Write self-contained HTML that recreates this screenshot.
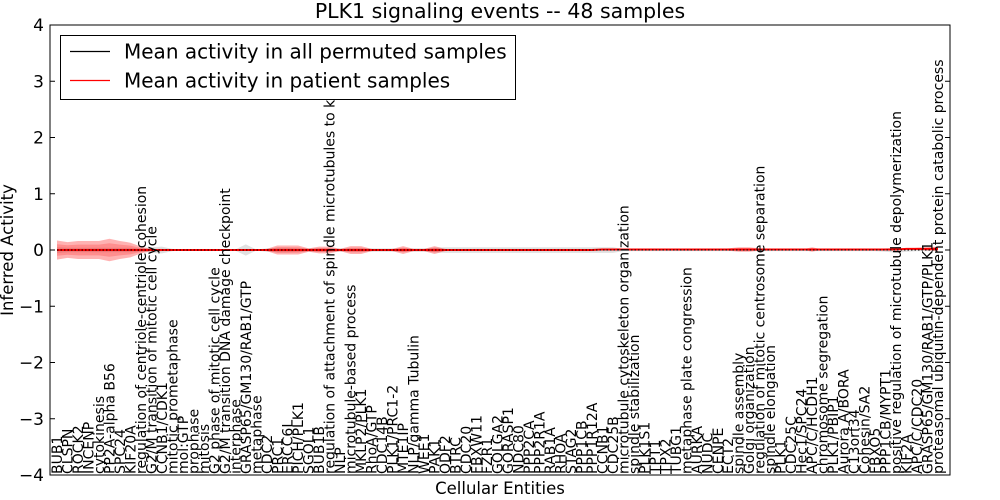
<!DOCTYPE html>
<html><head><meta charset="utf-8"><style>
body{margin:0;background:#fff;}
svg{display:block;font-family:"DejaVu Sans","Liberation Sans",sans-serif;}
</style></head><body>
<svg id="chart" width="1000" height="500">
<defs><clipPath id="lblclip"><rect x="0" y="36" width="1000" height="464"/></clipPath></defs>
<rect x="0" y="0" width="1000" height="500" fill="#fff"/>
<text x="500" y="18" font-size="20.5" text-anchor="middle">PLK1 signaling events -- 48 samples</text>
<text x="500" y="494" font-size="16.5" text-anchor="middle">Cellular Entities</text>
<text transform="translate(13,250) rotate(-90)" font-size="16.5" text-anchor="middle">Inferred Activity</text>
<g id="bands"></g>
<g id="lines"></g>
<g id="xlabels" clip-path="url(#lblclip)"></g>
<g id="yaxis"></g>
<rect x="50" y="25" width="900" height="450" fill="none" stroke="#000" stroke-width="1"/>
<g>
<rect x="60.5" y="35.5" width="455" height="64" fill="#fff" stroke="#000"/>
<line x1="70" y1="51.5" x2="110" y2="51.5" stroke="#000" stroke-width="1.2"/>
<text x="124" y="58.5" font-size="20">Mean activity in all permuted samples</text>
<line x1="70" y1="80.5" x2="110" y2="80.5" stroke="#f00" stroke-width="1.2"/>
<text x="124" y="87.5" font-size="20">Mean activity in patient samples</text>
</g>
</svg>
<script>
const categories=["BUB1","CLSPN","ROCK2","INCENP","cytokinesis","PP2A-alpha B56","SPC24","KIF20A","regulation of centriole-centriole cohesion","G2/M transition of mitotic cell cycle","CCNB1/CDK1","mitotic prometaphase","mol:GTP","prophase","mitosis","G2 phase of mitotic cell cycle","G2/M transition DNA damage checkpoint","interphase","GRASP65/GM130/RAB1/GTP","metaphase","CDC2","PRC1","ERCC6L","PICH/PLK1","SGOL1","BUB1B","regulation of attachment of spindle microtubules to kinetochore","NLP","microtubule-based process","MKLP2/PLK1","RhoA/GTP","CDC14B","PLK1/PRC1-2","MTE1IP","NLP/gamma Tubulin","WEE1","PAK1","ODF2","BTRC","CDC20","FBXW11","FZR1","GOLGA2","GORASP1","NDC80","PPP2CA","PPP2R1A","RAB1A","RHOA","STAG2","PPP1CB","PPP1R12A","CCNB1","CDC25B","microtubule cytoskeleton organization","spindle stabilization","PLK1S1","TPT1","TPX2","TUBG1","metaphase plate congression","AURKA","NUDC","CENPE","ECT2","spindle assembly","Golgi organization","regulation of mitotic centrosome separation","spindle elongation","PLK1","CDC25C","Hec1/SPC24","APC/C/HCDH1","chromosome segregation","PLK1/PBIP1","Aurora A/BORA","C13orf34","Cohesin/SA2","FBXO5","PPP1CB/MYPT1","positive regulation of microtubule depolymerization","KIF2A","APC/C/CDC20","GRASP65/GM130/RAB1/GTP/PLK1","proteasomal ubiquitin-dependent protein catabolic process"];
const patientMean=[0,0,0,0,0,0,0,0,0,0,0,0,0,0,0,0,0,0,0,0,0,0,0,0,0,0,0,0,0,0,0,0,0,0,0,0,0,0,0,0,0,0,0,0,0,0,0,0,0,0,0,0,0.01,0.01,0.01,0.01,0.01,0.01,0.01,0.01,0.01,0.01,0.01,0.01,0.01,0.01,0.01,0.01,0.01,0.01,0.01,0.01,0.01,0.01,0.01,0.01,0.01,0.01,0.01,0.01,0.01,0.02,0.02,0.02,0.02];
const patientSpread=[0.17,0.14,0.16,0.16,0.16,0.2,0.16,0.13,0.06,0.02,0.02,0,0,0,0,0,0,0,0,0,0.02,0.08,0.08,0.08,0.03,0.06,0.06,0.02,0.07,0.07,0.02,0,0.02,0.07,0.02,0.02,0.07,0.02,0,0,0,0,0,0,0,0,0,0,0,0,0,0,0,0,0,0,0,0,0,0,0,0,0,0,0.02,0.04,0.04,0.02,0,0,0,0,0.04,0,0,0,0,0,0,0,0,0,0.02,0.03,0.04];
const permutedSpread=[0.05,0.04,0.04,0.04,0.04,0.04,0.04,0.04,0.03,0.05,0.06,0.02,0.01,0.01,0.01,0.01,0.01,0.01,0.1,0.01,0.03,0.04,0.04,0.03,0.03,0.03,0.03,0.03,0.03,0.03,0.03,0.03,0.03,0.03,0.03,0.03,0.04,0.05,0.05,0.05,0.05,0.05,0.05,0.05,0.05,0.05,0.05,0.05,0.05,0.05,0.05,0.05,0.05,0.05,0.02,0.02,0.02,0.02,0.02,0.02,0.02,0.02,0.02,0.02,0.02,0.02,0.02,0.02,0.02,0.02,0.02,0.02,0.02,0.02,0.02,0.02,0.02,0.02,0.02,0.03,0.05,0.03,0.02,0.02,0.02];
const permutedMean=categories.map(()=>0);
const yTicks=[-4,-3,-2,-1,0,1,2,3,4];

const NS="http://www.w3.org/2000/svg";
const n=categories.length;
const X0=57,X1=938;
function xs(i){return X0+i*(X1-X0)/(n-1);}
function ys(v){return 250-v*56.25;}
function mk(tag,attrs,parent){const e=document.createElementNS(NS,tag);for(const k in attrs)e.setAttribute(k,attrs[k]);parent.appendChild(e);return e;}
function band(mean,spread,scale){
  let up=[],lo=[];
  for(let i=0;i<n;i++){up.push(xs(i)+","+ys(mean[i]+spread[i]*scale));lo.unshift(xs(i)+","+ys(mean[i]-spread[i]*scale));}
  return up.concat(lo).join(" ");
}
const bands=document.getElementById('bands');
let g1=mk('polygon',{points:band(permutedMean,permutedSpread,1),fill:"#bbb","fill-opacity":"0.45",stroke:"none"},bands);


let r1=mk('polygon',{points:band(patientMean,patientSpread,1),fill:"#f00","fill-opacity":"0.3",stroke:"none"},bands);


let r2=mk('polygon',{points:band(patientMean,patientSpread,0.6),fill:"#f00","fill-opacity":"0.2",stroke:"none"},bands);



const lines=document.getElementById('lines');
let pt=mk('polyline',{points:patientMean.map((v,i)=>xs(i)+","+ys(v)).join(" "),fill:"none",stroke:"#f00","stroke-width":"2"},lines);


let pm=mk('polyline',{points:permutedMean.map((v,i)=>xs(i)+","+ys(v)).join(" "),fill:"none",stroke:"#000","stroke-width":"1","stroke-dasharray":"1.5,2"},lines);



const xl=document.getElementById('xlabels');
categories.forEach((c,i)=>{
  const t=mk('text',{transform:"translate("+(xs(i)+5)+",474) rotate(-90)","font-size":"14"},xl);
  t.textContent=c;
  
  
});
const ya=document.getElementById('yaxis');
yTicks.forEach(v=>{
  const y=ys(v);
  const a=mk('line',{x1:50,y1:y,x2:55,y2:y,stroke:"#000"},ya);
  
  
  const b=mk('line',{x1:945,y1:y,x2:950,y2:y,stroke:"#000"},ya);
  
  
  const t=mk('text',{x:44,y:y+6,"font-size":"17","text-anchor":"end"},ya);
  t.textContent=(v<0?"\u2212"+(-v):String(v));
  
  
});
</script>
</body></html>
